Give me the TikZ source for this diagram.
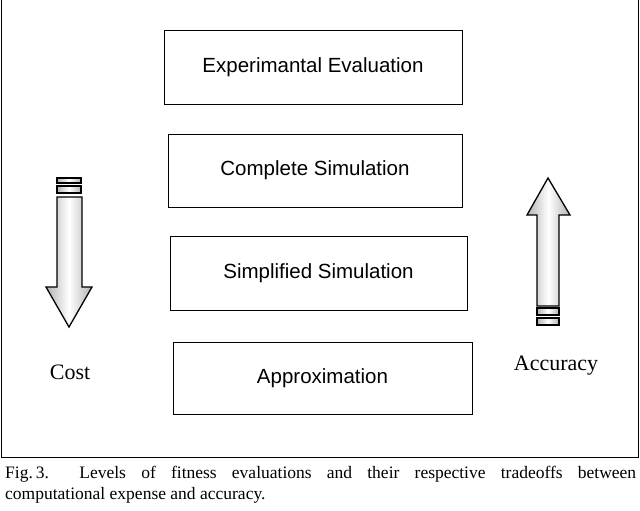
\documentclass[tikz,border=0pt]{standalone}
\usepackage{fontspec}
\setmainfont{Liberation Serif}
\newfontfamily\sansf{Liberation Sans}
\begin{document}
\begin{tikzpicture}[x=1pt,y=-1pt,
  box/.style={draw,line width=1pt,font=\sansf\fontsize{20.5}{24}\selectfont,inner sep=0pt},
  arr/.style={draw,line width=1.3pt,line join=miter,left color=gray!60,right color=gray!60,middle color=white},
  lbl/.style={font=\fontsize{22}{26}\selectfont}]
\useasboundingbox (0,0) rectangle (640,511);
\draw[line width=1pt] (1,-2) rectangle (638,457);
\node[box,minimum width=298pt,minimum height=73pt] (e) at (313,67.5) {\raisebox{-5pt}{Experimantal Evaluation}};
\node[box,minimum width=294pt,minimum height=73pt] (c) at (315,170.5) {\raisebox{-5pt}{Complete Simulation}};
\node[box,minimum width=297pt,minimum height=74pt] (s) at (318.5,273) {\raisebox{-5pt}{Simplified Simulation}};
\node[box,minimum width=299pt,minimum height=72pt] (a) at (322.5,378) {\raisebox{-5pt}{Approximation}};
% left arrow (down)
\path[arr] (57,178) rectangle (81,183);
\path[arr] (57,186) rectangle (81,193);
\path[arr] (57,197) -- (82,197) -- (82,287) -- (92,287) -- (69,327) -- (46,287) -- (57,287) -- cycle;
% right arrow (up)
\path[arr] (537,215) -- (537,306) -- (559,306) -- (559,215) -- (570,215) -- (548,178) -- (527,215) -- cycle;
\path[arr] (537,308) rectangle (559,315);
\path[arr] (537,318) rectangle (559,325);
\node[lbl] (cost) at (70,372) {Cost};
\node[lbl] (acc) at (556,366) {Accuracy};
\node[font=\fontsize{17.5}{21}\selectfont,text width=631pt,align=justify,anchor=north west,inner sep=0pt] (cap) at (5,466)
{Fig.\,3.\ \ Levels of fitness evaluations and their respective tradeoffs between\linebreak computational expense and accuracy.};
\end{tikzpicture}
\end{document}
